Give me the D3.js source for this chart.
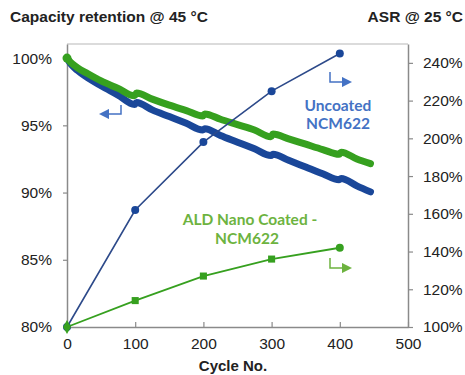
<!DOCTYPE html>
<html><head><meta charset="utf-8">
<script src="https://cdn.jsdelivr.net/npm/d3@7/dist/d3.min.js"></script>
<style>body{margin:0;background:#fff}svg{display:block}</style>
</head><body>
<svg id="c" width="465" height="375"></svg>
<script>
// Capacity retention (%) vs cycle
const capCycles = [0,5,15,30,50,75,99,102,125,150,175,199,202,225,250,275,299,302,325,350,375,399,402,425,445];
const capUncoated = [100,99.6,99.1,98.55,97.95,97.25,96.55,96.7,96.15,95.65,95.15,94.65,94.75,94.25,93.75,93.25,92.75,92.85,92.4,91.9,91.4,90.95,91.05,90.5,90.05];
const capCoated = [100,99.7,99.3,98.85,98.3,97.75,97.2,97.4,96.95,96.5,96.1,95.7,95.85,95.45,95.05,94.65,94.15,94.35,94.0,93.6,93.2,92.85,93.0,92.5,92.15];
// ASR (%) vs cycle
const asrCycles = [0,100,200,300,400];
const asrUncoated = [100,162,198,225,245];
const asrCoated = [100,114,127,136,142];
const xTicks = [0,100,200,300,400,500];
const leftTicks = [80,85,90,95,100];
const rightTicks = [100,120,140,160,180,200,220,240];

const svg = d3.select("#c");
const L = 67, R = 408, T = 44, B = 327;
const x = d3.scaleLinear().domain([0,500]).range([L,R]);
const yL = d3.scaleLinear().domain([80,101.05]).range([B,T]);
const yR = d3.scaleLinear().domain([100,250]).range([B,T]);
const font = "'Liberation Sans', Arial, sans-serif";
const BLUE = "#1a4799", NAVY = "#2d4a8a", GREEN = "#36a01f", LBLUE = "#4472c4", LGREEN = "#6db33f";

// frame top
svg.append("line").attr("x1",L).attr("x2",R).attr("y1",T).attr("y2",T).attr("stroke","#cfcfcf").attr("stroke-width",1.5);

// axes
const gx = svg.append("g").attr("transform",`translate(0,${B})`)
  .call(d3.axisBottom(x).tickValues(xTicks).tickSizeInner(-5).tickSizeOuter(0).tickPadding(9));
const gl = svg.append("g").attr("transform",`translate(${L},0)`)
  .call(d3.axisLeft(yL).tickValues(leftTicks).tickFormat(d=>d+"%").tickSizeInner(4).tickSizeOuter(0).tickPadding(11));
const gr = svg.append("g").attr("transform",`translate(${R},0)`)
  .call(d3.axisRight(yR).tickValues(rightTicks).tickFormat(d=>d+"%").tickSizeInner(5).tickSizeOuter(0).tickPadding(10));
[gx,gl,gr].forEach(g=>{
  g.selectAll(".domain").attr("stroke","#8a8a8a").attr("stroke-width",1.5);
  g.selectAll(".tick line").attr("stroke","#8a8a8a").attr("stroke-width",1.2);
  g.selectAll("text").attr("font-family",font).attr("font-size",15.5).attr("fill","#222");
});
gx.selectAll("text").attr("dy","0.85em");

// capacity lines
const capLine = (vals)=> d3.line().x((d,i)=>x(capCycles[i])).y(d=>yL(d)).curve(d3.curveMonotoneX)(vals);
svg.append("path").attr("d",capLine(capUncoated)).attr("fill","none").attr("stroke",BLUE)
  .attr("stroke-width",7).attr("stroke-linecap","round").attr("stroke-linejoin","round");
svg.append("path").attr("d",capLine(capCoated)).attr("fill","none").attr("stroke",GREEN)
  .attr("stroke-width",7).attr("stroke-linecap","round").attr("stroke-linejoin","round");
svg.append("circle").attr("cx",x(0)).attr("cy",yL(100)).attr("r",4.5).attr("fill",GREEN);

// ASR lines
const asrLine = (vals)=> d3.line().x((d,i)=>x(asrCycles[i])).y(d=>yR(d))(vals);
svg.append("path").attr("d",asrLine(asrUncoated)).attr("fill","none").attr("stroke",NAVY).attr("stroke-width",1.6);
svg.selectAll(".mu").data(asrUncoated).join("circle").attr("cx",(d,i)=>x(asrCycles[i])).attr("cy",d=>yR(d)).attr("r",4).attr("fill",BLUE);
svg.append("path").attr("d",asrLine(asrCoated)).attr("fill","none").attr("stroke",GREEN).attr("stroke-width",1.8);
svg.selectAll(".mc").data(asrCoated).join("path")
  .attr("transform",(d,i)=>`translate(${x(asrCycles[i])},${yR(d)})`)
  .attr("d",(d,i)=> i===asrCoated.length-1 ? d3.symbol(d3.symbolCircle,50)() : (i===0 ? d3.symbol(d3.symbolDiamond,55)() : d3.symbol(d3.symbolSquare,50)()))
  .attr("fill",GREEN);

// arrows
const defs = svg.append("defs");
function marker(id,color){
  defs.append("marker").attr("id",id).attr("viewBox","0 0 10 10").attr("refX",8).attr("refY",5)
    .attr("markerWidth",7).attr("markerHeight",7).attr("orient","auto")
    .append("path").attr("d","M0,0L10,5L0,10z").attr("fill",color);
}
marker("ab",LBLUE); marker("ag",LGREEN);
svg.append("path").attr("d","M121,105V114H101").attr("fill","none").attr("stroke",LBLUE).attr("stroke-width",1.5).attr("marker-end","url(#ab)");
svg.append("path").attr("d","M330,72V82H350").attr("fill","none").attr("stroke",LBLUE).attr("stroke-width",1.5).attr("marker-end","url(#ab)");
svg.append("path").attr("d","M330,258V268H350").attr("fill","none").attr("stroke",LGREEN).attr("stroke-width",1.5).attr("marker-end","url(#ag)");

// annotations
const af = "Lato, 'Open Sans', sans-serif";
const ann = (t,xx,yy,c)=>svg.append("text").attr("x",xx).attr("y",yy).attr("text-anchor","middle").attr("font-family",af).attr("font-weight","bold").attr("font-size",15.5).attr("fill",c).text(t);
ann("Uncoated",338,111,LBLUE);
ann("NCM622",338,129,LBLUE);
ann("ALD Nano Coated -",250,225,LGREEN);
ann("NCM622",247,244,LGREEN);

// titles
svg.append("text").attr("x",10).attr("y",22).attr("font-family",font).attr("font-weight","bold").attr("font-size",15.5).attr("fill","#222").text("Capacity retention @ 45 °C");
svg.append("text").attr("x",463).attr("y",22).attr("text-anchor","end").attr("font-family",font).attr("font-weight","bold").attr("font-size",15.5).attr("fill","#222").text("ASR @ 25 °C");
svg.append("text").attr("x",233).attr("y",371).attr("text-anchor","middle").attr("font-family",font).attr("font-weight","bold").attr("font-size",15).attr("fill","#222").text("Cycle No.");
</script>
</body></html>
